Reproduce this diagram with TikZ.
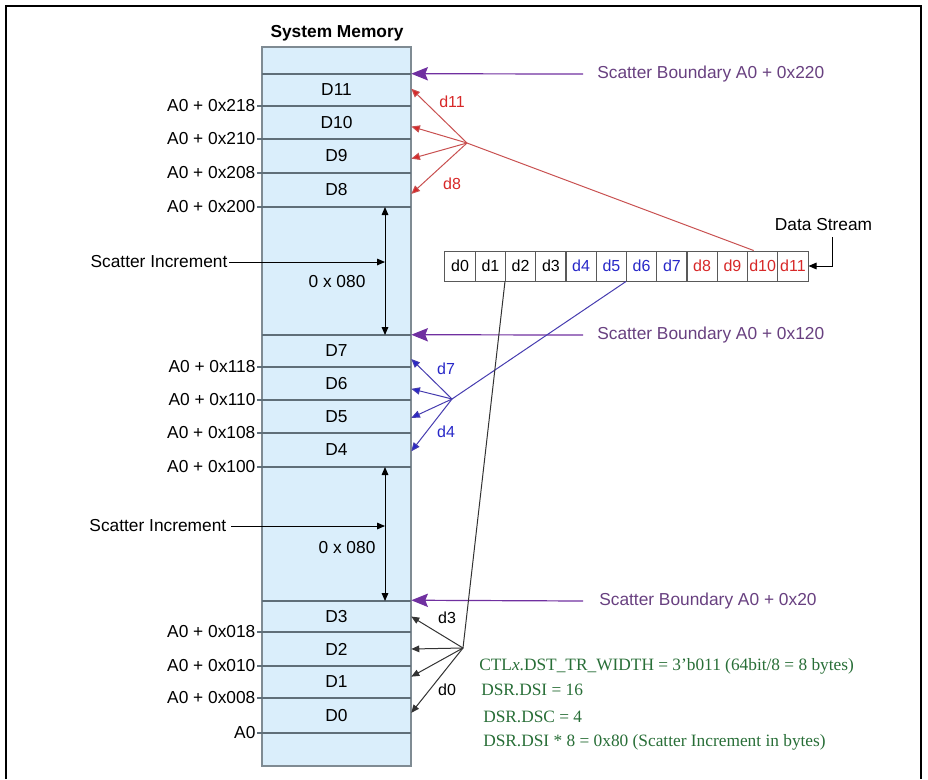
\documentclass[tikz,border=0pt]{standalone}
\usepackage{fontspec}
\setmainfont{Liberation Sans}
\newfontfamily\regfont{Liberation Serif}
\usepackage{xcolor}
\usepackage{tikz}
\usetikzlibrary{arrows.meta}

\definecolor{memfill}{RGB}{218,238,251}
\definecolor{memline}{RGB}{95,110,120}
\definecolor{bndarrow}{RGB}{112,48,160}
\definecolor{bndtext}{RGB}{104,64,128}
\definecolor{redd}{RGB}{215,40,40}
\definecolor{redline}{RGB}{200,80,80}
\definecolor{blued}{RGB}{40,40,200}
\definecolor{blueline}{RGB}{70,60,175}
\definecolor{regtext}{RGB}{40,110,55}

\tikzset{
  every node/.style={font=\fontsize{13}{15}\selectfont},
  cell/.style={minimum width=111.75pt, minimum height=24pt, inner sep=0pt},
  dcell/.style={draw=black!65, line width=0.75pt, minimum width=22.69pt, minimum height=22.5pt, inner sep=0pt, font=\fontsize{12}{14}\selectfont},
  addr/.style={anchor=east, inner sep=1pt},
  sep/.style={draw=memline, line width=0.9pt},
  tip/.style={line width=0.75pt, -{Triangle[length=6pt,width=5pt]}},
  dtip/.style={line width=0.75pt, {Triangle[length=6pt,width=5pt]}-{Triangle[length=6pt,width=5pt]}},
  bnd/.style={draw=bndarrow, line width=0.9pt, -{Stealth[length=12.5pt,width=10pt,inset=2pt]}},
  bndlbl/.style={anchor=west, inner sep=0pt, text=bndtext},
  small/.style={font=\fontsize{12}{14}\selectfont},
  reg/.style={anchor=west, inner sep=0pt, text=regtext, font=\regfont\fontsize{13}{15}\selectfont}
}

\begin{document}
\begin{tikzpicture}[x=0.75pt, y=-0.75pt]
\useasboundingbox (0,0) rectangle (928,779);
\draw[line width=1.5pt] (6,779) -- (6,6) -- (921,6) -- (921,779);

% system memory
\node[font=\bfseries\fontsize{13}{15}\selectfont] (title) at (337,33) {System Memory};
\draw[fill=memfill, draw=memline!80, line width=0.9pt] (262,47) rectangle (411,766);
\draw[sep] (262,74) -- (411,74);
\draw[sep] (262,106) -- (411,106);
\draw[sep] (262,139) -- (411,139);
\draw[sep] (262,173) -- (411,173);
\draw[sep] (262,207) -- (411,207);
\draw[sep] (262,335) -- (411,335);
\draw[sep] (262,367) -- (411,367);
\draw[sep] (262,400) -- (411,400);
\draw[sep] (262,433) -- (411,433);
\draw[sep] (262,467) -- (411,467);
\draw[sep] (262,601) -- (411,601);
\draw[sep] (262,632) -- (411,632);
\draw[sep] (262,666) -- (411,666);
\draw[sep] (262,698) -- (411,698);
\draw[sep] (262,733) -- (411,733);

\node[cell] (D11) at (336.5,90) {D11};
\node[cell] (D10) at (336.5,122.5) {D10};
\node[cell] (D9) at (336.5,156) {D9};
\node[cell] (D8) at (336.5,190) {D8};
\node[cell] (D7) at (336.5,351) {D7};
\node[cell] (D6) at (336.5,383.5) {D6};
\node[cell] (D5) at (336.5,416.5) {D5};
\node[cell] (D4) at (336.5,450) {D4};
\node[cell] (D3) at (336.5,616.5) {D3};
\node[cell] (D2) at (336.5,649) {D2};
\node[cell] (D1) at (336.5,682) {D1};
\node[cell] (D0) at (336.5,715.5) {D0};

% addresses
\node[addr] (a218) at (257,106) {A0 + 0x218};
\node[addr] (a210) at (257,139) {A0 + 0x210};
\node[addr] (a208) at (257,173) {A0 + 0x208};
\node[addr] (a200) at (257,207) {A0 + 0x200};
\node[addr] (a118) at (257,367) {A0 + 0x118};
\node[addr] (a110) at (257,400) {A0 + 0x110};
\node[addr] (a108) at (257,433) {A0 + 0x108};
\node[addr] (a100) at (257,467) {A0 + 0x100};
\node[addr] (a018) at (257,632) {A0 + 0x018};
\node[addr] (a010) at (257,666) {A0 + 0x010};
\node[addr] (a008) at (257,698) {A0 + 0x008};
\node[addr] (a000) at (257,733) {A0};
\draw[sep] (a218.east) -- (262,106);
\draw[sep] (a210.east) -- (262,139);
\draw[sep] (a208.east) -- (262,173);
\draw[sep] (a200.east) -- (262,207);
\draw[sep] (a118.east) -- (262,367);
\draw[sep] (a110.east) -- (262,400);
\draw[sep] (a108.east) -- (262,433);
\draw[sep] (a100.east) -- (262,467);
\draw[sep] (a018.east) -- (262,632);
\draw[sep] (a010.east) -- (262,666);
\draw[sep] (a008.east) -- (262,698);
\draw[sep] (a000.east) -- (262,733);

% scatter increments
\coordinate (inc1a) at (385,207);
\coordinate (inc1b) at (385,335);
\coordinate (inc2a) at (385,467);
\coordinate (inc2b) at (385,601);
\draw[dtip] (inc1a) -- (inc1b);
\draw[dtip] (inc2a) -- (inc2b);
\node[anchor=east, inner sep=1pt] (si1) at (229,262) {Scatter Increment};
\node[anchor=east] (si2) at (231,526) {Scatter Increment};
\draw[tip] (si1.east) -- (si1.east -| inc1a);
\draw[tip] (si2.east) -- (si2.east -| inc2a);
\node (inc1) at (337,282) {0 x 080};
\node (inc2) at (347,548) {0 x 080};

% scatter boundaries
\node[bndlbl] (b220) at (597,74) {Scatter Boundary A0 + 0x220};
\node[bndlbl] (b120) at (597,335) {Scatter Boundary A0 + 0x120};
\node[bndlbl] (b020) at (599,601) {Scatter Boundary A0 + 0x20};
\draw[bnd] ([xshift=-10.5pt]b220.west) -- (D11.north east);
\draw[bnd] ([xshift=-10.5pt]b120.west) -- (D7.north east);
\draw[bnd] ([xshift=-12pt]b020.west) -- (D3.north east);

% data stream
\node[dcell] (ds0) at (460.1,266) {d0};
\node[dcell] (ds1) at (490.4,266) {d1};
\node[dcell] (ds2) at (520.6,266) {d2};
\node[dcell] (ds3) at (550.9,266) {d3};
\node[dcell, text=blued] (ds4) at (581.1,266) {d4};
\node[dcell, text=blued] (ds5) at (611.4,266) {d5};
\node[dcell, text=blued] (ds6) at (641.6,266) {d6};
\node[dcell, text=blued] (ds7) at (671.9,266) {d7};
\node[dcell, text=redd] (ds8) at (702.1,266) {d8};
\node[dcell, text=redd] (ds9) at (732.4,266) {d9};
\node[dcell, text=redd] (ds10) at (762.6,266) {d10};
\node[dcell, text=redd] (ds11) at (792.9,266) {d11};
\node (dslbl) at (823.5,225) {Data Stream};
\coordinate (dsin) at (832,237);
\draw[tip] (dsin) |- (ds11.east);

% d8..d11
\coordinate (rhub) at (467,143);
\draw[redline, line width=0.75pt] (rhub) -- (ds10.120);
\draw[tip, redline, -{Triangle[length=6.5pt,width=5.5pt,fill=redd]}] (rhub) -- ([yshift=1pt]D11.east);
\draw[tip, redline, -{Triangle[length=6.5pt,width=5.5pt,fill=redd]}] (rhub) -- ([yshift=-3pt]D10.east);
\draw[tip, redline, -{Triangle[length=6.5pt,width=5.5pt,fill=redd]}] (rhub) -- ([yshift=-2pt]D9.east);
\draw[tip, redline, -{Triangle[length=6.5pt,width=5.5pt,fill=redd]}] (rhub) -- ([yshift=-3pt]D8.east);
\node[small, text=redd] (l11) at (452,102) {d11};
\node[small, text=redd] (l8) at (452,184) {d8};

% d4..d7
\coordinate (bhub) at (452,399);
\draw[blueline, line width=0.75pt] (bhub) -- (ds6.south west);
\draw[tip, blueline, -{Triangle[length=6.5pt,width=5.5pt,fill=blued]}] (bhub) -- ([yshift=-6pt]D7.east);
\draw[tip, blueline, -{Triangle[length=6.5pt,width=5.5pt,fill=blued]}] (bhub) -- ([yshift=-4pt]D6.east);
\draw[tip, blueline, -{Triangle[length=6.5pt,width=5.5pt,fill=blued]}] (bhub) -- ([yshift=-1pt]D5.east);
\draw[tip, blueline, -{Triangle[length=6.5pt,width=5.5pt,fill=blued]}] (bhub) -- ([yshift=-1pt]D4.east);
\node[small, text=blued] (l7) at (446,369) {d7};
\node[small, text=blued] (l4) at (446,432) {d4};

% d0..d3
\coordinate (khub) at (463,648);
\draw[line width=0.75pt, black!80] (khub) -- (ds2.south west);
\draw[tip, black!80] (khub) -- (D3.east);
\draw[tip, black!80] (khub) -- (D2.east);
\draw[tip, black!80] (khub) -- ([yshift=4pt]D1.east);
\draw[tip, black!80] (khub) -- ([yshift=2pt]D0.east);
\node[small] (l3) at (447,618) {d3};
\node[small] (l0) at (447,690) {d0};

% register settings
\node[reg] (r1) at (479,666) {CTL\textit{x}.DST\_TR\_WIDTH = 3’b011 (64bit/8 = 8 bytes)};
\node[reg] (r2) at (481,690) {DSR.DSI = 16};
\node[reg] (r3) at (483,717) {DSR.DSC = 4};
\node[reg] (r4) at (483,742) {DSR.DSI * 8 = 0x80 (Scatter Increment in bytes)};
\end{tikzpicture}
\end{document}
